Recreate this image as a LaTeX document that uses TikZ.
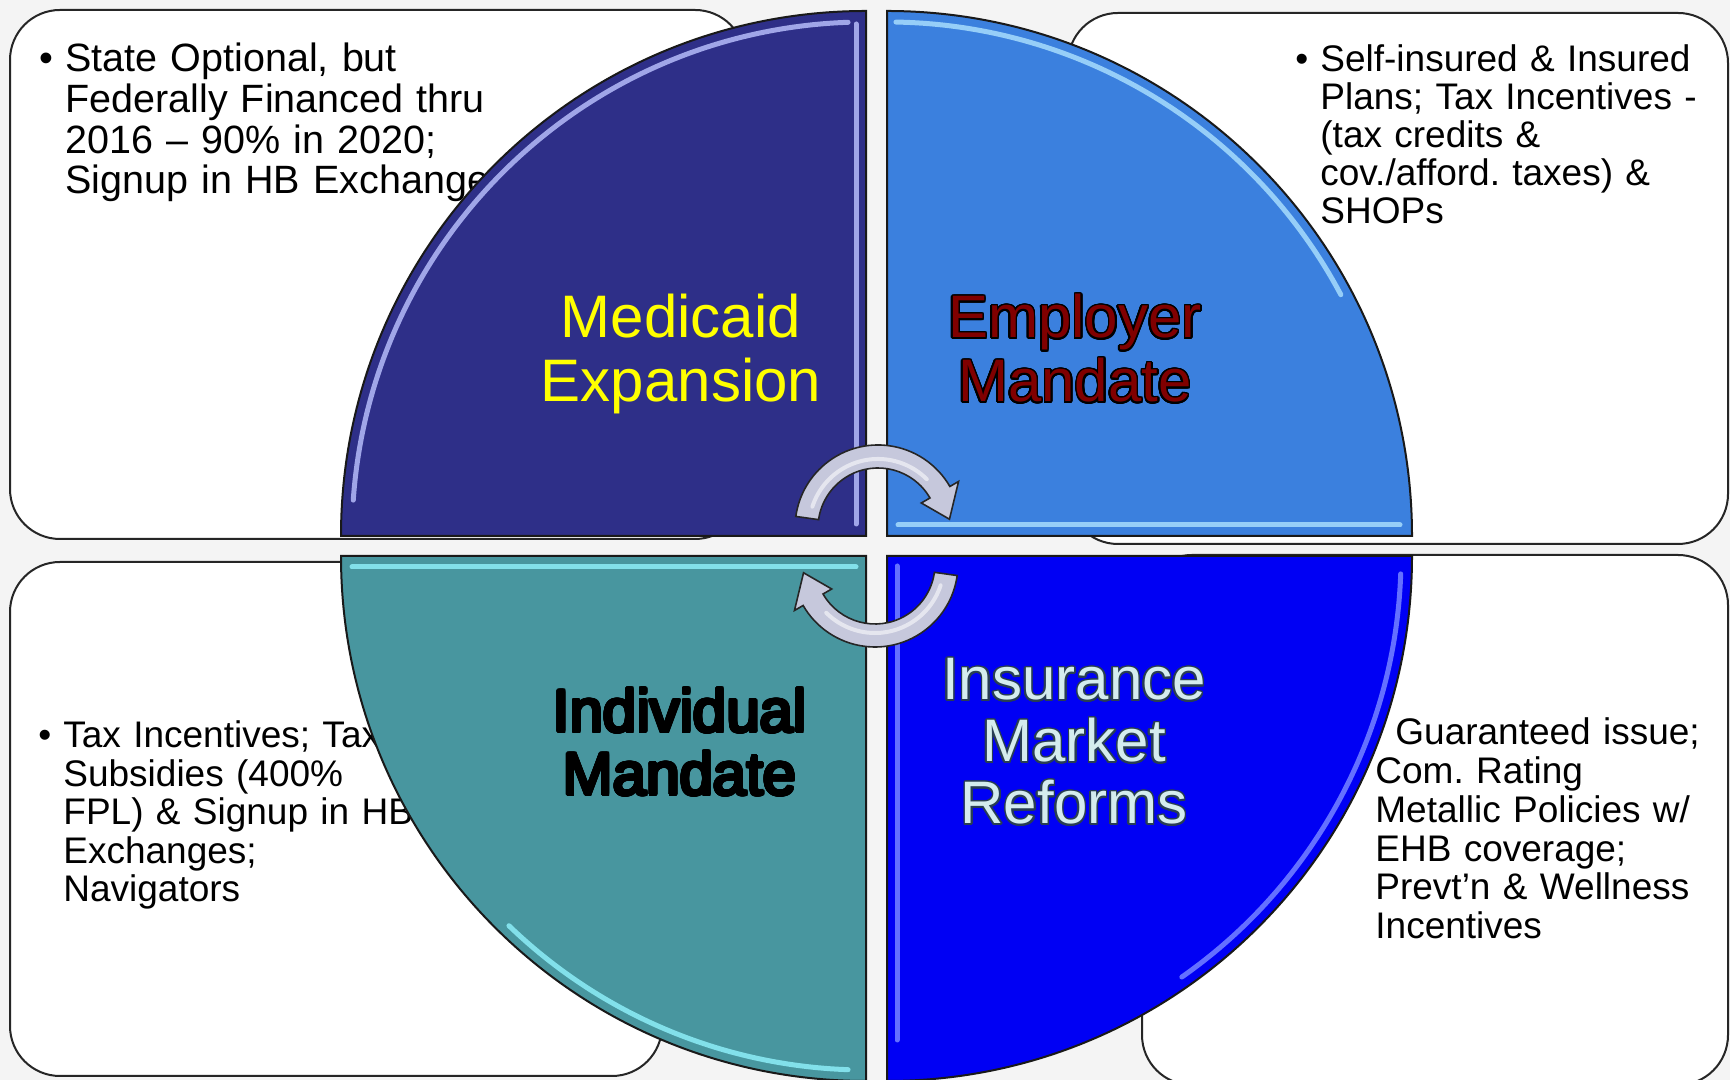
\documentclass[tikz,border=0pt]{standalone}
\usepackage{fontspec}
\setmainfont{Liberation Sans}
\usepackage[copies]{contour}
\contourlength{0.8pt}
\contournumber{24}
\frenchspacing
\definecolor{slidebg}{RGB}{244,244,244}
\definecolor{medfill}{RGB}{46,47,136}
\definecolor{empfill}{RGB}{59,128,222}
\definecolor{indfill}{RGB}{72,150,159}
\definecolor{insfill}{RGB}{0,0,244}
\definecolor{medshine}{RGB}{160,166,232}
\definecolor{empshine}{RGB}{150,206,248}
\definecolor{indshine}{RGB}{130,224,234}
\definecolor{insshine}{RGB}{100,112,255}
\definecolor{medyellow}{RGB}{255,255,0}
\definecolor{empred}{RGB}{128,0,0}
\definecolor{inscyan}{RGB}{212,236,238}
\definecolor{insline}{RGB}{40,62,84}
\definecolor{arrowgray}{RGB}{198,200,220}
\tikzset{pics/turnarrow/.style={code={
  \draw[turn] (172:83) arc[start angle=172, end angle=30, radius=83] -- (30:93) -- (7:72) -- (30:50) -- (30:60) arc[start angle=30, end angle=172, radius=60] -- cycle;
  \draw[white, opacity=0.55, line width=2pt, line cap=round] (162:69) arc[start angle=162, end angle=45, radius=69];
}}}
\begin{document}
\begin{tikzpicture}[x=0.5pt, y=0.5pt]
			\tikzstyle{infobox} = [draw=black!85, line width=1pt, fill=white, rounded corners=25pt, inner sep=0pt]
			\tikzstyle{quarter} = [draw=black!90, line width=1pt]
			\tikzstyle{shine} = [line width=2.5pt, line cap=round]
			\tikzstyle{bodytext} = [inner sep=0pt, anchor=base west, align=left, text width=260pt, font=\fontsize{18.5pt}{19.2pt}\selectfont]
			\tikzstyle{title} = [inner sep=0pt, anchor=base, align=center, text width=200pt, font=\fontsize{30pt}{32pt}\selectfont]
			\tikzstyle{turn} = [draw=black!85, line width=0.8pt, fill=arrowgray]
			\fill[slidebg] (0,0) rectangle (1730,1080);
			\useasboundingbox (0,0) rectangle (1730,1080);
			\node[infobox, minimum width=367.5pt, minimum height=264.5pt] (medbox) at (377.5,805.5) {};
			\node[infobox, minimum width=330pt, minimum height=265.5pt] (empbox) at (1398,801.5) {};
			\node[infobox, minimum width=326pt, minimum height=257pt] (indbox) at (336,261) {};
			\node[infobox, minimum width=293pt, minimum height=265pt] (insbox) at (1435,260) {};
			\node[bodytext, font=\fontsize{19.75pt}{20.3pt}\selectfont] (medtext) at (65,1008) {\llap{•\hspace{6pt}}State Optional, but\\Federally Financed thru\\2016 – 90\% in 2020;\\Signup in HB Exchanges};
			\node[bodytext, font=\fontsize{18.5pt}{19pt}\selectfont] (emptext) at (1320,1008) {\llap{•\hspace{6pt}}Self-insured \& Insured\\Plans; Tax Incentives -\\(tax credits \&\\cov./afford. taxes) \&\\SHOPs};
			\node[bodytext] (indtext) at (63,332) {\llap{•\hspace{6pt}}Tax Incentives; Tax\\Subsidies (400\%\\FPL) \& Signup in HB\\Exchanges;\\Navigators};
			\node[bodytext, font=\fontsize{18.5pt}{19.35pt}\selectfont] (instext) at (1375,335) {\hspace*{10pt}Guaranteed issue;\\Com. Rating\\Metallic Policies w/\\EHB coverage;\\Prevt’n \& Wellness\\Incentives};
			\draw[quarter, fill=medfill] (866,544) -- (341,544) arc[start angle=180, end angle=90, radius=525] -- cycle;
			\draw[quarter, fill=empfill] (887,544) -- (887,1069) arc[start angle=90, end angle=0, radius=525] -- cycle;
			\draw[quarter, fill=indfill] (866,524) -- (341,524) arc[start angle=180, end angle=270, radius=525] -- cycle;
			\draw[quarter, fill=insfill] (887,524) -- (887,-1) arc[start angle=270, end angle=360, radius=525] -- cycle;
			\draw[shine, medshine] (866,544) ++(176:514) arc[start angle=176, end angle=92, radius=514];
			\draw[shine, medshine] (856,1056) -- (856,556);
			\draw[shine, empshine] (887,544) ++(89:514) arc[start angle=89, end angle=28, radius=514];
			\draw[shine, empshine] (898,555) -- (1400,555);
			\draw[shine, indshine] (352,513) -- (856,513);
			\draw[shine, indshine] (866,524) ++(226:514) arc[start angle=226, end angle=268, radius=514];
			\draw[shine, insshine] (897,514) -- (897,40);
			\draw[shine, insshine] (887,524) ++(358:514) arc[start angle=358, end angle=305, radius=514];
			\node[title, text=medyellow] (medtitle) at (681,742) {Medicaid\\Expansion};
			\node[title, text=empred] (emptitle) at (1075,742) {\contour{black}{Employer}\\\contour{black}{Mandate}};
			\node[title, text=black, font=\fontsize{30pt}{31.5pt}\selectfont] (indtitle) at (680,348) {\contour{black}{Individual}\\\contour{black}{Mandate}};
			\node[title, text=inscyan, font=\fontsize{30pt}{31pt}\selectfont] (institle) at (1074,380) {\contour{insline}{Insurance}\\\contour{insline}{Market}\\\contour{insline}{Reforms}};
			\pic at (878,552) {turnarrow};
			\pic[rotate=180] at (875,516) {turnarrow};
\end{tikzpicture}
\end{document}
